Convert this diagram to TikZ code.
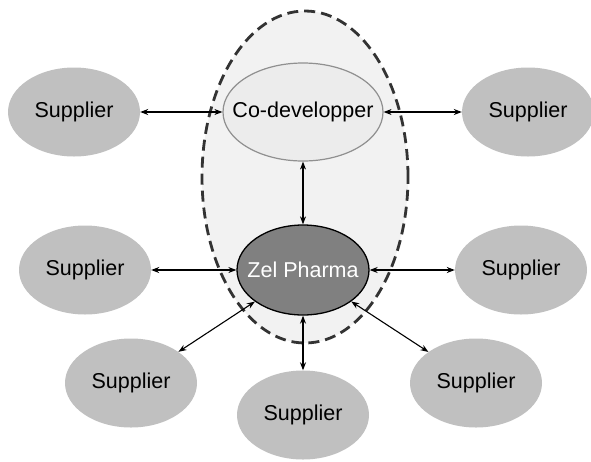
\documentclass[tikz,border=0pt]{standalone}
\usepackage{fontspec}
\setmainfont{Liberation Sans}
\usetikzlibrary{shapes.geometric,arrows.meta}
\definecolor{supfill}{HTML}{C0C0C0}
\definecolor{codevfill}{HTML}{ECECEC}
\definecolor{codevline}{HTML}{909090}
\definecolor{zelfill}{HTML}{808080}
\definecolor{dashline}{HTML}{333333}
\definecolor{groupfill}{HTML}{F2F2F2}
\newcommand{\zlabel}[1]{\makebox[0pt][c]{#1}}
\tikzset{
  supplier/.style={ellipse, fill=supfill, draw=none, minimum width=132pt, minimum height=89pt, inner sep=0pt, font=\fontsize{21.5}{24}\selectfont},
  codev/.style={ellipse, fill=codevfill, draw=codevline, line width=1.2pt, minimum width=160pt, minimum height=98pt, inner sep=0pt, font=\fontsize{21.5}{24}\selectfont},
  zel/.style={ellipse, fill=zelfill, draw=black, line width=1.3pt, minimum width=132pt, minimum height=90pt, inner sep=0pt, text=white, font=\fontsize{21.5}{24}\selectfont},
  group/.style={ellipse, fill=groupfill, draw=dashline, line width=2.8pt, dash pattern=on 11pt off 6pt, minimum width=206pt, minimum height=332pt, inner sep=0pt},
  link/.style={draw=black, line width=1.1pt, {Stealth[length=8pt,width=6pt]}-{Stealth[length=8pt,width=6pt]}}
}
\begin{document}
\begin{tikzpicture}[x=1pt,y=-1pt]
\useasboundingbox (0,0) rectangle (591,461);
\node[group] (grp) at (305,177) {};
\node[codev] (cod) at (303,112) {\zlabel{Co-developper}};
\node[zel] (zel) at (303,270) {\zlabel{Zel Pharma}};
\node[supplier] (s1) at (74,112) {\zlabel{Supplier}};
\node[supplier] (s2) at (528,112) {\zlabel{Supplier}};
\node[supplier] (s3) at (85,270) {\zlabel{Supplier}};
\node[supplier] (s4) at (521,270) {\zlabel{Supplier}};
\node[supplier] (s5) at (131,383) {\zlabel{Supplier}};
\node[supplier] (s6) at (303,415) {\zlabel{Supplier}};
\node[supplier] (s7) at (476,383) {\zlabel{Supplier}};
\draw[link] (s1) -- (cod);
\draw[link] (cod) -- (s2);
\draw[link] (cod) -- (zel);
\draw[link] (s3) -- (zel);
\draw[link] (zel) -- (s4);
\draw[link] (zel) -- (s5);
\draw[link] (zel) -- (s6);
\draw[link] (zel) -- (s7);
\end{tikzpicture}
\end{document}
